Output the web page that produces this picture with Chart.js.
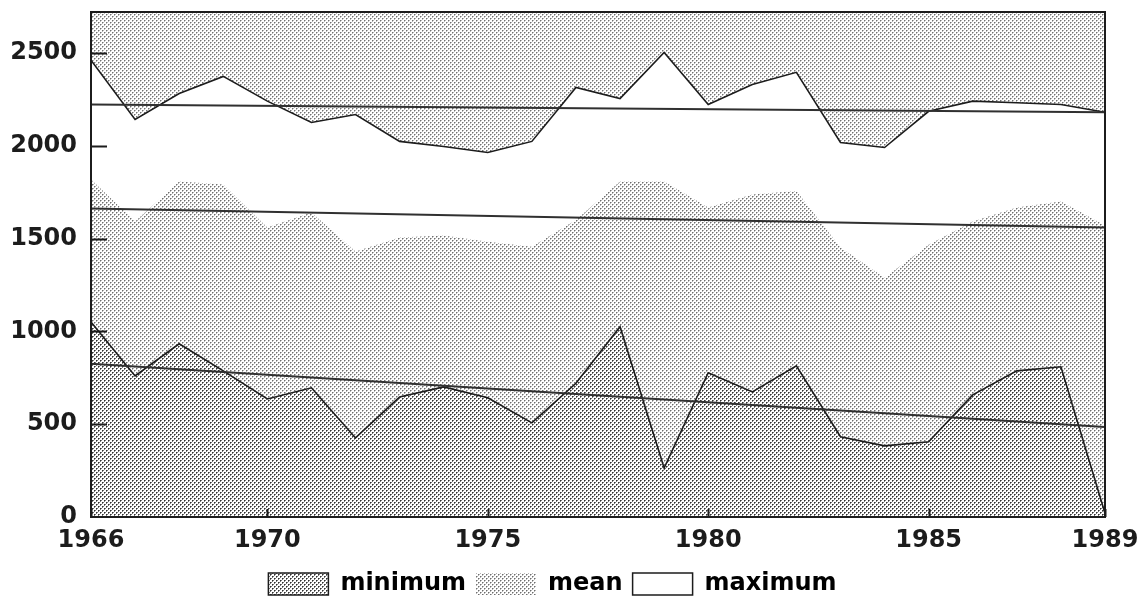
<!DOCTYPE html>
<html>
<head>
<meta charset="utf-8">
<script src="https://cdn.jsdelivr.net/npm/chart.js@4/dist/chart.umd.min.js"></script>
<style>
  html, body { margin: 0; padding: 0; background: #fff; }
  #wrap { width: 1146px; height: 597px; }
</style>
</head>
<body>
<div id="wrap"><canvas id="c" width="1146" height="597"></canvas></div>
<script>
// Yearly values, 1966-1989
const years = [1966, 1967, 1968, 1969, 1970, 1971, 1972, 1973, 1974, 1975, 1976, 1977,
               1978, 1979, 1980, 1981, 1982, 1983, 1984, 1985, 1986, 1987, 1988, 1989];
const minimum = [1050, 760, 933, 787, 636, 696, 426, 647, 701, 642, 507, 720,
                 1025, 264, 777, 674, 814, 432, 383, 405, 658, 787, 809, 20];
const mean = [1818, 1591, 1807, 1791, 1559, 1640, 1430, 1505, 1516, 1483, 1456, 1600,
              1807, 1807, 1667, 1737, 1756, 1451, 1289, 1467, 1591, 1667, 1699, 1570];
const maximum = [2460, 2141, 2281, 2373, 2240, 2125, 2168, 2023, 1996, 1963, 2023, 2314,
                 2254, 2502, 2222, 2330, 2395, 2017, 1990, 2185, 2240, 2231, 2222, 2180];

// Linear trend lines, given by their end points
const trendYears = [1966, 1989];
const trendMinimum = [825, 485];
const trendMean = [1661, 1559];
const trendMaximum = [2222, 2180];

// Axis ticks
const xTickYears = [1966, 1970, 1975, 1980, 1985, 1989];
const yTickValues = [0, 500, 1000, 1500, 2000, 2500];
const yMax = 2720;

const canvas = document.getElementById('c');
const ctx = canvas.getContext('2d');

// Dotted screen patterns: round-ish dots on a diagonal grid
function stipple(dotColor, edgeColor) {
  const t = document.createElement('canvas');
  t.width = 4; t.height = 4;
  const g = t.getContext('2d');
  g.fillStyle = '#ffffff';
  g.fillRect(0, 0, 4, 4);
  [[0, 0], [2, 2]].forEach(([x, y]) => {
    g.fillStyle = dotColor;
    g.fillRect(x, y, 1, 1);
    g.fillStyle = edgeColor;
    g.fillRect(x + 1, y, 1, 1);
    g.fillRect(x, y + 1, 1, 1);
  });
  return ctx.createPattern(t, 'repeat');
}
const minPattern = stipple('#333333', '#787878');
const meanPattern = stipple('#6e6e6e', '#b4b4b4');
const topPattern = stipple('#727272', '#b8b8b8');

const pts = (xs, ys) => xs.map((x, i) => ({ x: x, y: ys[i] }));
const font = { family: "'DejaVu Sans', sans-serif", size: 24, weight: 'bold' };
const ink = '#1c1c1c';

// Screen behind the areas, then frame and inner tick marks on top
const plotBackground = {
  id: 'plotBackground',
  beforeDraw(chart) {
    const a = chart.chartArea, c = chart.ctx;
    c.save();
    c.fillStyle = topPattern;
    c.fillRect(a.left, a.top, a.right - a.left, a.bottom - a.top);
    c.restore();
  }
};
const frameTicks = {
  id: 'frameTicks',
  afterDatasetsDraw(chart) {
    const a = chart.chartArea, c = chart.ctx;
    const xs = chart.scales.x, ys = chart.scales.y;
    c.save();
    c.strokeStyle = ink;
    c.lineWidth = 2;
    c.beginPath();
    yTickValues.forEach(v => {
      if (v === 0) return;
      const y = Math.round(ys.getPixelForValue(v)) + 0.5;
      c.moveTo(a.left, y);
      c.lineTo(a.left + 16, y);
    });
    xTickYears.forEach(v => {
      const x = Math.round(xs.getPixelForValue(v)) + 0.5;
      c.moveTo(x, a.bottom);
      c.lineTo(x, a.bottom - 8);
    });
    c.stroke();
    c.strokeRect(a.left, a.top, a.right - a.left, a.bottom - a.top);
    c.restore();
  }
};

new Chart(ctx, {
  type: 'line',
  data: {
    datasets: [
      { label: 'minimum', data: pts(years, minimum), fill: 'origin',
        backgroundColor: minPattern, borderColor: ink, borderWidth: 1.6,
        pointRadius: 0, tension: 0 },
      { label: 'mean', data: pts(years, mean), fill: 'origin',
        backgroundColor: meanPattern, borderColor: 'rgba(0,0,0,0)', borderWidth: 0,
        pointRadius: 0, tension: 0 },
      { label: 'maximum', data: pts(years, maximum), fill: 'origin',
        backgroundColor: '#ffffff', borderColor: ink, borderWidth: 1.6,
        pointRadius: 0, tension: 0 },
      { label: 'trend minimum', data: pts(trendYears, trendMinimum), fill: false,
        borderColor: '#303030', borderWidth: 2, pointRadius: 0, order: -1 },
      { label: 'trend mean', data: pts(trendYears, trendMean), fill: false,
        borderColor: '#303030', borderWidth: 2, pointRadius: 0, order: -1 },
      { label: 'trend maximum', data: pts(trendYears, trendMaximum), fill: false,
        borderColor: '#303030', borderWidth: 2, pointRadius: 0, order: -1 }
    ]
  },
  options: {
    responsive: false,
    animation: false,
    events: [],
    layout: { padding: { left: 0, right: 41, top: 12, bottom: -9 } },
    scales: {
      x: {
        type: 'linear', min: 1966, max: 1989,
        afterBuildTicks: s => { s.ticks = xTickYears.map(v => ({ value: v })); },
        afterFit: s => { s.height = 45; s.paddingLeft = 0; s.paddingRight = 0; },
        grid: { display: false, drawTicks: false },
        border: { display: false },
        ticks: { padding: 9, font: font, color: ink, maxRotation: 0, autoSkip: false,
                 callback: v => String(v) }
      },
      y: {
        type: 'linear', min: 0, max: yMax,
        afterBuildTicks: s => { s.ticks = yTickValues.map(v => ({ value: v })); },
        afterFit: s => { s.width = 91; s.paddingTop = 0; s.paddingBottom = 0; },
        grid: { display: false, drawTicks: false },
        border: { display: false },
        ticks: { padding: 14, font: font, color: ink, callback: v => String(v) }
      }
    },
    plugins: {
      tooltip: { enabled: false },
      legend: {
        position: 'bottom',
        labels: {
          boxWidth: 60, boxHeight: 22, padding: 10, font: font, color: ink,
          filter: item => item.datasetIndex < 3,
          generateLabels: chart => chart.data.datasets.slice(0, 3).map((d, i) => ({
            text: d.label,
            fillStyle: d.backgroundColor,
            strokeStyle: ink,
            lineWidth: i === 1 ? 0 : 1.5,
            hidden: false,
            datasetIndex: i
          }))
        }
      }
    }
  },
  plugins: [plotBackground, frameTicks]
});
</script>
</body>
</html>
